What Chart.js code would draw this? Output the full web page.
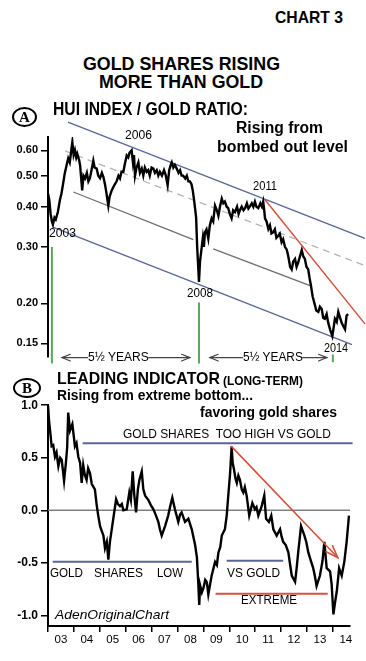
<!DOCTYPE html>
<html><head><meta charset="utf-8">
<script src="https://cdn.jsdelivr.net/npm/chart.js@4.4.1/dist/chart.umd.min.js"></script>
<style>
html,body{margin:0;padding:0;background:#fff;width:366px;height:661px;overflow:hidden}
body{position:relative;font-family:"Liberation Sans",Arial,sans-serif;color:#000}
canvas{position:absolute;left:0}
.t{position:absolute;white-space:pre;line-height:1;transform-origin:0 0;color:#000}
.circ{position:absolute;border:2px solid #000;border-radius:50%;box-sizing:border-box;font:bold 15px "Liberation Serif",serif;display:flex;align-items:center;justify-content:center;line-height:1}
</style></head><body>
<canvas id="ca" width="366" height="270" style="top:100px"></canvas>
<canvas id="cb" width="366" height="266" style="top:395px"></canvas>
<div class="circ" style="left:12px;top:107px;width:25px;height:20px">A</div>
<div class="circ" style="left:13px;top:378px;width:28px;height:20px">B</div>
<script>
// ---------- Panel A : HUI index / gold ratio (log scale) ----------
const huiYears = [2003.00,2003.05,2003.10,2003.15,2003.19,2003.25,2003.30,2003.38,2003.46,2003.52,2003.58,2003.65,2003.72,2003.78,2003.84,2003.90,2003.94,2003.99,2004.04,2004.09,2004.13,2004.20,2004.24,2004.32,2004.37,2004.43,2004.50,2004.56,2004.62,2004.68,2004.75,2004.80,2004.88,2004.94,2005.01,2005.08,2005.14,2005.20,2005.24,2005.33,2005.38,2005.46,2005.52,2005.58,2005.65,2005.72,2005.78,2005.84,2005.91,2005.96,2006.04,2006.10,2006.15,2006.23,2006.28,2006.32,2006.36,2006.42,2006.49,2006.55,2006.62,2006.68,2006.74,2006.81,2006.87,2006.93,2007.00,2007.07,2007.13,2007.20,2007.26,2007.32,2007.40,2007.48,2007.55,2007.62,2007.68,2007.74,2007.78,2007.84,2007.90,2007.97,2008.04,2008.10,2008.16,2008.22,2008.30,2008.36,2008.42,2008.48,2008.54,2008.59,2008.64,2008.68,2008.72,2008.76,2008.80,2008.83,2008.87,2008.93,2008.98,2009.02,2009.06,2009.12,2009.19,2009.25,2009.32,2009.38,2009.45,2009.52,2009.58,2009.64,2009.71,2009.77,2009.83,2009.90,2009.96,2010.02,2010.09,2010.15,2010.22,2010.30,2010.36,2010.41,2010.48,2010.55,2010.61,2010.68,2010.74,2010.80,2010.87,2010.93,2010.99,2011.05,2011.12,2011.20,2011.26,2011.31,2011.35,2011.38,2011.44,2011.51,2011.57,2011.63,2011.70,2011.76,2011.82,2011.89,2011.95,2012.02,2012.08,2012.15,2012.22,2012.28,2012.35,2012.41,2012.47,2012.54,2012.60,2012.66,2012.73,2012.80,2012.86,2012.92,2012.98,2013.05,2013.10,2013.15,2013.22,2013.31,2013.36,2013.44,2013.50,2013.57,2013.63,2013.69,2013.76,2013.82,2013.90,2013.98,2014.04,2014.08,2014.15,2014.21,2014.28,2014.34,2014.40,2014.47,2014.53,2014.59];
const huiValues = [0.44,0.42,0.38,0.36,0.352,0.37,0.365,0.385,0.42,0.44,0.47,0.51,0.54,0.566,0.55,0.60,0.636,0.58,0.60,0.57,0.585,0.56,0.538,0.45,0.50,0.49,0.51,0.48,0.491,0.52,0.557,0.53,0.526,0.50,0.491,0.51,0.495,0.47,0.45,0.403,0.43,0.45,0.46,0.47,0.48,0.50,0.49,0.515,0.514,0.54,0.578,0.57,0.59,0.60,0.55,0.58,0.50,0.53,0.55,0.51,0.526,0.50,0.53,0.514,0.52,0.50,0.53,0.526,0.51,0.52,0.50,0.514,0.50,0.52,0.50,0.467,0.52,0.54,0.55,0.53,0.54,0.526,0.51,0.52,0.50,0.50,0.49,0.50,0.48,0.48,0.47,0.45,0.42,0.395,0.37,0.30,0.26,0.233,0.27,0.296,0.32,0.30,0.333,0.34,0.318,0.35,0.368,0.36,0.403,0.39,0.375,0.40,0.424,0.41,0.415,0.40,0.396,0.38,0.368,0.39,0.385,0.40,0.38,0.39,0.40,0.39,0.396,0.41,0.395,0.401,0.41,0.40,0.415,0.40,0.396,0.41,0.40,0.415,0.39,0.368,0.36,0.341,0.35,0.33,0.333,0.34,0.32,0.325,0.33,0.31,0.317,0.30,0.294,0.28,0.26,0.255,0.27,0.275,0.26,0.268,0.28,0.293,0.28,0.275,0.26,0.255,0.24,0.228,0.21,0.197,0.19,0.188,0.195,0.192,0.18,0.179,0.185,0.174,0.165,0.158,0.17,0.179,0.175,0.188,0.18,0.174,0.17,0.166,0.183,0.185];
const aTickValues = [0.60,0.50,0.40,0.30,0.20,0.15];
const aTickLabels = ['0.60','0.50','0.40','0.30','0.20','0.15'];
// trend / channel lines  [year, value]
const aUpperChannel = [[2003.77,0.734],[2015.24,0.3186]];
const aLowerChannel = [[2003.19,0.3456],[2014.74,0.1487]];
const aMidDashed   = [[2003.66,0.597],[2015.24,0.262]];
const aInner1      = [[2003.98,0.4447],[2008.61,0.3157]];
const aInner2      = [[2009.38,0.2958],[2013.12,0.2269]];
const aRedTrend    = [[2011.38,0.4208],[2015.24,0.1725]];
const aGreenMarks  = [[2003.15,0.2995,0.1298],[2008.83,0.2013,0.1298],[2014.00,0.1384,0.131]];
const aYearSpans   = [[2003.54,2008.48,0.1354],[2009.25,2013.77,0.1354]];

// ---------- Panel B : leading indicator ----------
const indYears = [2003.00,2003.04,2003.08,2003.14,2003.20,2003.27,2003.33,2003.40,2003.47,2003.53,2003.62,2003.69,2003.74,2003.78,2003.85,2003.94,2004.04,2004.10,2004.17,2004.24,2004.30,2004.36,2004.42,2004.49,2004.55,2004.62,2004.69,2004.81,2004.88,2004.94,2005.01,2005.08,2005.14,2005.20,2005.27,2005.33,2005.39,2005.45,2005.52,2005.63,2005.70,2005.78,2005.85,2005.91,2006.04,2006.14,2006.20,2006.27,2006.33,2006.40,2006.47,2006.53,2006.62,2006.68,2006.75,2006.87,2006.97,2007.07,2007.17,2007.26,2007.32,2007.39,2007.52,2007.64,2007.72,2007.80,2007.90,2008.03,2008.10,2008.16,2008.29,2008.42,2008.55,2008.68,2008.75,2008.80,2008.84,2008.87,2008.94,2009.00,2009.07,2009.13,2009.19,2009.26,2009.32,2009.45,2009.52,2009.58,2009.65,2009.71,2009.83,2009.90,2009.96,2010.03,2010.09,2010.13,2010.18,2010.24,2010.29,2010.35,2010.41,2010.48,2010.54,2010.60,2010.67,2010.77,2010.89,2010.99,2011.05,2011.12,2011.25,2011.35,2011.42,2011.53,2011.62,2011.70,2011.83,2011.96,2012.02,2012.08,2012.18,2012.28,2012.35,2012.41,2012.54,2012.60,2012.66,2012.77,2012.90,2012.97,2013.05,2013.15,2013.24,2013.30,2013.37,2013.50,2013.60,2013.67,2013.76,2013.89,2013.95,2014.02,2014.08,2014.15,2014.24,2014.34,2014.44,2014.53,2014.62];
const indValues = [1.00,0.85,0.76,0.61,0.62,0.51,0.55,0.42,0.50,0.48,0.28,0.45,0.60,0.93,0.76,0.82,0.61,0.64,0.51,0.45,0.26,0.43,0.34,0.29,0.40,0.355,0.25,0.20,0.05,-0.05,-0.15,-0.20,-0.24,-0.36,-0.30,-0.47,-0.30,-0.20,-0.08,0.105,0.06,0.04,0.06,0.0,0.01,0.17,0.10,0.37,0.15,-0.02,0.20,0.29,0.37,0.20,0.14,0.10,0.05,0.01,-0.05,-0.11,-0.18,-0.24,-0.15,-0.05,0.04,0.12,0.01,-0.11,-0.04,-0.02,-0.11,-0.08,-0.18,-0.33,-0.45,-0.68,-0.90,-0.71,-0.78,-0.74,-0.66,-0.68,-0.80,-0.70,-0.62,-0.49,-0.52,-0.40,-0.35,-0.24,-0.18,-0.05,0.14,0.35,0.61,0.45,0.39,0.30,0.26,0.33,0.29,0.20,0.17,0.22,0.14,-0.05,0.07,0.01,0.03,-0.05,0.04,0.14,-0.08,-0.11,-0.05,-0.18,-0.24,-0.18,-0.25,-0.30,-0.33,-0.40,-0.52,-0.62,-0.68,-0.55,-0.40,-0.15,-0.24,-0.30,-0.40,-0.48,-0.55,-0.62,-0.72,-0.62,-0.48,-0.30,-0.55,-0.58,-0.70,-0.99,-0.88,-0.77,-0.55,-0.62,-0.49,-0.30,-0.05];
const bTickValues = [1.0,0.5,0.0,-0.5,-1.0];
const bTickLabels = ['1.0','0.5','0.0','-0.5','-1.0'];
const bYearTicks = [2003,2004,2005,2006,2007,2008,2009,2010,2011,2012,2013,2014];
const bYearLabels = ['03','04','05','06','07','08','09','10','11','12','13','14'];
const bZeroLine    = [[2003,0],[2014.66,0]];
const bHighLine    = [[2004.34,0.637],[2014.76,0.637]];
const bLowLine     = [[2003.18,-0.49],[2008.55,-0.49]];
const bVsGoldLine  = [[2009.90,-0.48],[2012.08,-0.48]];
const bExtremeLine = [[2009.47,-0.793],[2013.80,-0.793]];
const bRedArrow    = [[2010.09,0.606],[2014.185,-0.449]];

const BLUE='#5b6698', RED='#d4533d', GREEN='#58a858';
const FONT='"Liberation Sans", Arial, sans-serif';

function seg(pts,color,width,dash){
  return {data:pts.map(p=>({x:p[0],y:p[1]})),borderColor:color,borderWidth:width,borderDash:dash||[],pointRadius:0,clip:false,fill:false};
}
const arrowPlugin = {
  id:'arrows',
  afterDatasetsDraw(chart,args,opts){
    const ctx=chart.ctx, xs=chart.scales.x, ys=chart.scales.y;
    ctx.save(); ctx.lineCap='round';
    (opts.items||[]).forEach(a=>{
      const x1=xs.getPixelForValue(a.x1), y1=ys.getPixelForValue(a.y1);
      const x2=xs.getPixelForValue(a.x2), y2=ys.getPixelForValue(a.y2);
      ctx.strokeStyle=a.color; ctx.lineWidth=a.width;
      ctx.beginPath(); ctx.moveTo(x1,y1); ctx.lineTo(x2,y2); ctx.stroke();
      const heads = a.both ? [[x2,y2,x1,y1],[x1,y1,x2,y2]] : [[x2,y2,x1,y1]];
      heads.forEach(h=>{
        const ang=Math.atan2(h[1]-h[3],h[0]-h[2]);
        ctx.beginPath();
        ctx.moveTo(h[0]-a.head*Math.cos(ang-a.spread),h[1]-a.head*Math.sin(ang-a.spread));
        ctx.lineTo(h[0],h[1]);
        ctx.lineTo(h[0]-a.head*Math.cos(ang+a.spread),h[1]-a.head*Math.sin(ang+a.spread));
        ctx.stroke();
      });
    });
    ctx.restore();
  }
};

// ---- chart A ----
const dsA = [
  {data:huiYears.map((x,i)=>({x,y:huiValues[i]})),borderColor:'#000',borderWidth:2.4,pointRadius:0,fill:false},
  seg(aUpperChannel,BLUE,1.3),
  seg(aLowerChannel,BLUE,1.3),
  seg(aMidDashed,'#b4b4b4',1.3,[7,5]),
  seg(aInner1,'#6e6e6e',1.3),
  seg(aInner2,'#6e6e6e',1.3),
  seg(aRedTrend,RED,1.5),
];
aGreenMarks.forEach(g=>dsA.push(seg([[g[0],g[1]],[g[0],g[2]]],GREEN,2)));
new Chart(document.getElementById('ca'),{
  type:'line',
  data:{datasets:dsA},
  plugins:[arrowPlugin],
  options:{
    responsive:false,animation:false,devicePixelRatio:1,
    layout:{padding:{top:37,bottom:13,left:0,right:0}},
    plugins:{legend:{display:false},tooltip:{enabled:false},
      arrows:{items:aYearSpans.map(s=>({x1:s[0],x2:s[1],y1:s[2],y2:s[2],color:'#444',width:1.2,head:9,spread:0.38,both:true}))}},
    elements:{line:{tension:0}},
    scales:{
      x:{type:'linear',display:false,min:2003,max:2015.28},
      y:{type:'logarithmic',min:0.136,max:0.66,
        afterBuildTicks:s=>{s.ticks=aTickValues.map(v=>({value:v}));},
        afterFit:s=>{s.width=48;},
        border:{display:true,color:'#000',width:2},
        grid:{display:true,drawOnChartArea:false,drawTicks:true,tickLength:7,color:'#000',lineWidth:1.5},
        ticks:{color:'#000',padding:3,font:{family:FONT,size:11,weight:'bold'},callback:(v,i)=>aTickLabels[i]}
      }
    }
  }
});

// ---- chart B ----
const dsB = [
  {data:indYears.map((x,i)=>({x,y:indValues[i]})),borderColor:'#000',borderWidth:2.4,pointRadius:0,fill:false},
  seg(bZeroLine,'#808080',1.5),
  seg(bHighLine,BLUE,2),
  seg(bLowLine,BLUE,2),
  seg(bVsGoldLine,BLUE,2),
  seg(bExtremeLine,RED,2),
];
new Chart(document.getElementById('cb'),{
  type:'line',
  data:{datasets:dsB},
  plugins:[arrowPlugin],
  options:{
    responsive:false,animation:false,devicePixelRatio:1,
    layout:{padding:{top:8,bottom:15,left:0,right:16}},
    plugins:{legend:{display:false},tooltip:{enabled:false},
      arrows:{items:[{x1:bRedArrow[0][0],y1:bRedArrow[0][1],x2:bRedArrow[1][0],y2:bRedArrow[1][1],color:RED,width:1.6,head:13,spread:0.35,both:false}]}},
    elements:{line:{tension:0}},
    scales:{
      x:{type:'linear',min:2003,max:2014.66,
        afterBuildTicks:s=>{s.ticks=bYearTicks.map(v=>({value:v}));},
        afterFit:s=>{s.height=20;},
        border:{display:true,color:'#000',width:2},
        grid:{display:true,drawOnChartArea:false,drawTicks:true,tickLength:6,color:'#000',lineWidth:1.5},
        ticks:{color:'#000',padding:1,maxRotation:0,autoSkip:false,labelOffset:12.9,font:{family:FONT,size:11.5},callback:(v,i)=>bYearLabels[i]}
      },
      y:{type:'linear',min:-1.1,max:1.0,
        afterBuildTicks:s=>{s.ticks=bTickValues.map(v=>({value:v}));},
        afterFit:s=>{s.width=48;},
        border:{display:true,color:'#000',width:2},
        grid:{display:true,drawOnChartArea:false,drawTicks:true,tickLength:7,color:'#000',lineWidth:1.5},
        ticks:{color:'#000',padding:3,font:{family:FONT,size:12,weight:'bold'},callback:(v,i)=>bTickLabels[i]}
      }
    }
  }
});

// ---- text ----
const texts = [
  {t:'CHART 3',x:275,b:23,w:68,s:17,wt:'bold'},
  {t:'GOLD SHARES RISING',x:83,b:70,w:197,s:18,wt:'bold'},
  {t:'MORE THAN GOLD',x:99,b:88,w:164,s:18,wt:'bold'},
  {t:'HUI INDEX / GOLD RATIO:',x:53,b:116,w:195,s:17.5,wt:'bold'},
  {t:'Rising from',x:236,b:134,w:87,s:16,wt:'bold'},
  {t:'bombed out level',x:217,b:152.5,w:131,s:16,wt:'bold'},
  {t:'2006',x:125,b:139,w:27,s:12},
  {t:'2003',x:49,b:237,w:27,s:12},
  {t:'2008',x:187,b:297,w:26,s:12},
  {t:'2011',x:253,b:190,w:24,s:12},
  {t:'2014',x:324,b:352,w:24,s:12},
  {t:'5½ YEARS',x:88,b:361,w:61,s:12,bg:true},
  {t:'5½ YEARS',x:243,b:361,w:60,s:12,bg:true},
  {t:'LEADING INDICATOR',x:57,b:384,w:163,s:17,wt:'bold'},
  {t:'(LONG-TERM)',x:223,b:385,w:80,s:12,wt:'bold'},
  {t:'Rising from extreme bottom...',x:57,b:399.5,w:196,s:14,wt:'bold'},
  {t:'favoring gold shares',x:200,b:416.5,w:137,s:14,wt:'bold'},
  {t:'GOLD SHARES  TOO HIGH VS GOLD',x:123,b:438,w:208,s:13.5},
  {t:'GOLD',x:50,b:577,w:33,s:13},
  {t:'SHARES',x:94,b:577,w:49,s:13},
  {t:'LOW',x:157,b:577,w:26,s:13},
  {t:'VS GOLD',x:227,b:577,w:53,s:13},
  {t:'EXTREME',x:241,b:605,w:56,s:12.5},
  {t:'AdenOriginalChart',x:55,b:619,w:114,s:13,st:'italic'}
];
const mctx=document.createElement('canvas').getContext('2d');
texts.forEach(o=>{
  const f=`${o.st||'normal'} ${o.wt||'normal'} ${o.s}px ${FONT}`;
  mctx.font=f;
  const m=mctx.measureText(o.t).width;
  const d=document.createElement('div');
  d.className='t'; d.textContent=o.t;
  d.style.font=f; d.style.lineHeight='1';
  d.style.left=o.x+'px'; d.style.top=(o.b-0.8465*o.s)+'px';
  d.style.transform=`scaleX(${(o.w/m).toFixed(3)})`;
  if(o.bg){d.style.background='#fff';}
  document.body.appendChild(d);
});
</script>
</body></html>
